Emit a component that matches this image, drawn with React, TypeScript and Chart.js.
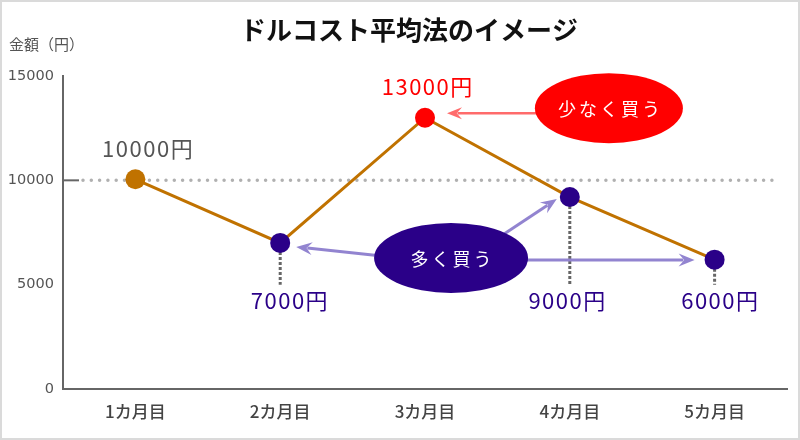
import React, { useEffect, useRef } from "react";
import { Chart, registerables } from "chart.js";

Chart.register(...registerables);

// ---- data ----
const chartTitle = "ドルコスト平均法のイメージ";
const yAxisName = "金額（円）";
const months = ["1カ月目", "2カ月目", "3カ月目", "4カ月目", "5カ月目"];
const prices = [10050, 7000, 13000, 9200, 6200];
const priceLabels = ["10000円", "7000円", "13000円", "9000円", "6000円"];
const yTicks = [0, 5000, 10000, 15000];
const referencePrice = 10000;
const buyLessText = "少なく買う";
const buyMoreText = "多く買う";

// ---- styles ----
const ORANGE = "#C07200";
const PURPLE = "#2A0088";
const RED = "#FF0000";
const pointColors = [ORANGE, PURPLE, RED, PURPLE, PURPLE];
const labelColors = ["#555555", PURPLE, RED, PURPLE, PURPLE];
const JP = "'Noto Sans CJK JP', 'Noto Sans', sans-serif";

function drawArrow(
  ctx: CanvasRenderingContext2D,
  x1: number, y1: number, x2: number, y2: number,
  color: string, w: number, head = 15, half = 6
) {
  const a = Math.atan2(y2 - y1, x2 - x1);
  ctx.save();
  ctx.strokeStyle = color;
  ctx.fillStyle = color;
  ctx.lineWidth = w;
  ctx.beginPath();
  ctx.moveTo(x1, y1);
  ctx.lineTo(x2 - Math.cos(a) * head * 0.7, y2 - Math.sin(a) * head * 0.7);
  ctx.stroke();
  ctx.translate(x2, y2);
  ctx.rotate(a);
  ctx.beginPath();
  ctx.moveTo(0, 0);
  ctx.lineTo(-head, -half);
  ctx.lineTo(-head * 0.65, 0);
  ctx.lineTo(-head, half);
  ctx.closePath();
  ctx.fill();
  ctx.restore();
}

function drawEllipseLabel(
  ctx: CanvasRenderingContext2D, cx: number, cy: number, rx: number, ry: number,
  fill: string, text: string
) {
  ctx.save();
  ctx.fillStyle = fill;
  ctx.beginPath();
  ctx.ellipse(cx, cy, rx, ry, 0, 0, Math.PI * 2);
  ctx.fill();
  ctx.fillStyle = "#ffffff";
  ctx.font = `18px ${JP}`;
  (ctx as any).letterSpacing = "3px";
  ctx.textAlign = "center";
  ctx.textBaseline = "middle";
  ctx.fillText(text, cx + 1.5, cy + 1);
  ctx.restore();
}

const decorPlugin = {
  id: "decor",
  beforeDraw(chart: any) {
    const ctx: CanvasRenderingContext2D = chart.ctx;
    ctx.save();
    ctx.fillStyle = "#ffffff";
    ctx.fillRect(0, 0, chart.width, chart.height);
    ctx.strokeStyle = "#dadada";
    ctx.lineWidth = 2;
    ctx.strokeRect(1, 1, chart.width - 2, chart.height - 2);
    ctx.restore();
  },
  beforeDatasetsDraw(chart: any) {
    const ctx: CanvasRenderingContext2D = chart.ctx;
    const x = chart.scales.x;
    const y = chart.scales.y;
    const area = chart.chartArea;
    const yRef = y.getPixelForValue(referencePrice);
    ctx.save();
    // short solid tick
    ctx.strokeStyle = "#666666";
    ctx.lineWidth = 2;
    ctx.beginPath();
    ctx.moveTo(area.left, yRef);
    ctx.lineTo(area.left + 16, yRef);
    ctx.stroke();
    // dotted reference line
    ctx.strokeStyle = "#b0b0b0";
    ctx.lineWidth = 3.5;
    ctx.lineCap = "round";
    ctx.setLineDash([0, 8.3]);
    ctx.beginPath();
    ctx.moveTo(area.left + 20, yRef);
    ctx.lineTo(area.right - 12, yRef);
    ctx.stroke();
    // vertical dashed drop lines for bottom-labelled points
    ctx.setLineDash([3, 2]);
    ctx.lineCap = "butt";
    ctx.strokeStyle = "#666666";
    ctx.lineWidth = 3;
    const yEnd = y.getPixelForValue(5000);
    [1, 3, 4].forEach((i) => {
      const px = x.getPixelForValue(i);
      const py = y.getPixelForValue(prices[i]);
      ctx.beginPath();
      ctx.moveTo(px, py + 9);
      ctx.lineTo(px, yEnd);
      ctx.stroke();
    });
    ctx.restore();
  },
  afterDatasetsDraw(chart: any) {
    const ctx: CanvasRenderingContext2D = chart.ctx;
    const x = chart.scales.x;
    const y = chart.scales.y;
    const pt = (i: number) => ({ x: x.getPixelForValue(i), y: y.getPixelForValue(prices[i]) });

    // red ellipse + arrow
    const rcx = x.getPixelForValue(3.27);
    const rcy = y.getPixelForValue(13460);
    const p3 = pt(2);
    drawArrow(ctx, rcx, rcy + 5, p3.x + 22, rcy + 5, "#FF6B6B", 2.5, 15, 6);
    drawEllipseLabel(ctx, rcx, rcy, 74, 35, RED, buyLessText);

    // purple ellipse + arrows
    const pcx = x.getPixelForValue(2.18);
    const pcy = y.getPixelForValue(6280);
    const p2 = pt(1);
    const p4 = pt(3);
    const p5 = pt(4);
    const arrowColor = "#9284D0";
    drawArrow(ctx, pcx - 60, pcy - 1, p2.x + 16, p2.y + 4, arrowColor, 3, 16, 6.5);
    drawArrow(ctx, pcx + 50, pcy - 22, p4.x - 13, p4.y + 2, arrowColor, 3, 16, 6.5);
    drawArrow(ctx, pcx + 60, pcy + 2, p5.x - 20, pcy + 2, arrowColor, 3, 16, 6.5);
    drawEllipseLabel(ctx, pcx, pcy, 77, 35, PURPLE, buyMoreText);
  },
  afterDraw(chart: any) {
    const ctx: CanvasRenderingContext2D = chart.ctx;
    const x = chart.scales.x;
    const y = chart.scales.y;
    ctx.save();
    // title
    ctx.fillStyle = "#111111";
    ctx.font = `bold 26px ${JP}`;
    ctx.textAlign = "center";
    ctx.textBaseline = "middle";
    (ctx as any).letterSpacing = "0px";
    ctx.fillText(chartTitle, 409, 30);
    // y axis name
    ctx.fillStyle = "#555555";
    ctx.font = `15px ${JP}`;
    ctx.textAlign = "left";
    ctx.fillText(yAxisName, 9, 44);
    // point labels
    const dx = [12, 9, 2, -3, 5];
    const yBottom = y.getPixelForValue(5000) + 16;
    ctx.font = `22px ${JP}`;
    (ctx as any).letterSpacing = "1.5px";
    ctx.textAlign = "center";
    priceLabels.forEach((t, i) => {
      const px = x.getPixelForValue(i) + dx[i] + 0.75;
      const py = y.getPixelForValue(prices[i]);
      const top = i === 0 || i === 2;
      ctx.fillStyle = labelColors[i];
      ctx.fillText(t, px, top ? py - 31 : yBottom);
    });
    ctx.restore();
  },
};

export default function App() {
  const ref = useRef<HTMLCanvasElement>(null);
  useEffect(() => {
    const canvas = ref.current;
    if (!canvas) return;
    const chart = new Chart(canvas, {
      type: "line",
      data: {
        labels: months,
        datasets: [
          {
            data: prices,
            borderColor: ORANGE,
            borderWidth: 3,
            tension: 0,
            pointRadius: 10,
            pointHoverRadius: 10,
            pointBorderWidth: 0,
            pointBackgroundColor: pointColors,
            pointBorderColor: pointColors,
          },
        ],
      },
      options: {
        responsive: false,
        animation: false,
        events: [],
        layout: { padding: { top: 76, right: 13, bottom: 1, left: 0 } },
        plugins: {
          legend: { display: false },
          title: { display: false },
          tooltip: { enabled: false },
        },
        scales: {
          x: {
            type: "category",
            offset: true,
            grid: { display: false, drawTicks: false },
            border: { display: true, color: "#666666", width: 2 },
            ticks: {
              color: "#444444",
              font: { family: JP, size: 17, weight: "500" as any },
              padding: 12,
              maxRotation: 0,
            },
            afterFit: (s: any) => {
              s.height = 50;
            },
          },
          y: {
            type: "linear",
            min: 0,
            max: 15000,
            grid: { display: false, drawTicks: false },
            border: { display: true, color: "#666666", width: 2 },
            afterBuildTicks: (s: any) => {
              s.ticks = yTicks.map((v) => ({ value: v }));
            },
            ticks: {
              color: "#555555",
              font: { family: "'DejaVu Sans', Verdana, sans-serif", size: 14.5 },
              padding: 9,
              callback: (v: any) => String(v),
            },
            afterFit: (s: any) => {
              s.width = 63;
            },
          },
        },
      },
      plugins: [decorPlugin],
    });
    return () => chart.destroy();
  }, []);
  return (
    <div style={{ position: "fixed", left: 0, top: 0, width: 800, height: 440, background: "#fff" }}>
      <canvas ref={ref} width={800} height={440} style={{ display: "block", width: 800, height: 440 }} />
    </div>
  );
}
